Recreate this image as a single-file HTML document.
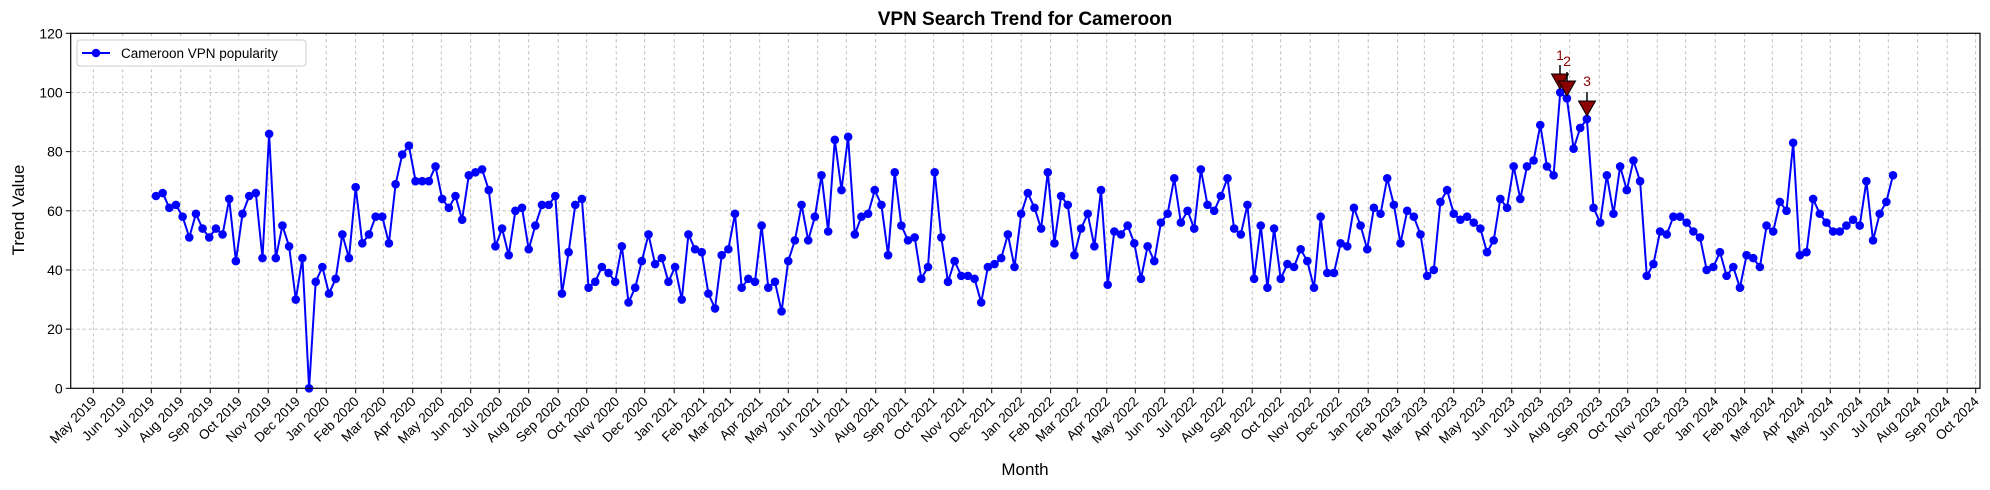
<!DOCTYPE html>
<html><head><meta charset="utf-8"><style>
html,body{margin:0;padding:0;background:#fff;}
svg{display:block;font-family:"Liberation Sans","DejaVu Sans",sans-serif;}
</style></head><body>
<svg id="s" width="1990" height="490" viewBox="0 0 1990 490" xmlns="http://www.w3.org/2000/svg">
<rect width="1990" height="490" fill="#fff"/>
<g id="grid"></g>
<g id="ticks"></g>
<polyline id="line" fill="none" stroke="#0000ff" stroke-width="2" stroke-linejoin="round"/>
<g id="pts" fill="#0000ff"></g>
<g id="ann"></g>
<rect x="70.7" y="33.3" width="1909.3" height="355" fill="none" stroke="#000" stroke-width="1.2"/>
<text x="1025" y="25" text-anchor="middle" font-size="19" font-weight="bold">VPN Search Trend for Cameroon</text>
<text x="0" y="0" transform="translate(24,210) rotate(-90)" text-anchor="middle" font-size="17">Trend Value</text>
<text x="1025" y="475" text-anchor="middle" font-size="17">Month</text>
<g>
<rect x="77" y="40" width="229" height="26" rx="3" fill="#fff" stroke="#ccc"/>
<line x1="82" y1="53" x2="110" y2="53" stroke="#0000ff" stroke-width="2"/>
<circle cx="96" cy="53" r="4.3" fill="#0000ff"/>
<text x="121" y="58" font-size="13.5">Cameroon VPN popularity</text>
</g>
</svg>
<script>
var NS="http://www.w3.org/2000/svg";
function el(t,a,p){var e=document.createElementNS(NS,t);for(var k in a)e.setAttribute(k,a[k]);document.getElementById(p).appendChild(e);return e;}
var L=70.7,R=1980,T=33.3,B=388.3;
function yv(v){return B-(v/120)*(B-T);}
// y grid
for(var v=0;v<=120;v+=20){var y=yv(v);
 if(v>0&&v<120)el("line",{x1:L,x2:R,y1:y,y2:y,stroke:"#b0b0b0","stroke-width":0.8,"stroke-dasharray":"3,3"},"grid");
 el("line",{x1:L-5,x2:L,y1:y,y2:y,stroke:"#000","stroke-width":1},"ticks");
 var t=el("text",{x:L-8,y:y+5,"text-anchor":"end","font-size":"14"},"ticks");t.textContent=v;}
// x ticks
var mn=["Jan","Feb","Mar","Apr","May","Jun","Jul","Aug","Sep","Oct","Nov","Dec"];
var d0=Date.UTC(2019,4,1),x0=93.3,ppd=(1975.7-93.3)/((Date.UTC(2024,9,1)-d0)/864e5);
for(var i=0;i<66;i++){var yr=2019+Math.floor((4+i)/12),m=(4+i)%12;
 var x=x0+(Date.UTC(yr,m,1)-d0)/864e5*ppd;
 el("line",{x1:x,x2:x,y1:T,y2:B,stroke:"#b0b0b0","stroke-width":0.8,"stroke-dasharray":"3,3"},"grid");
 el("line",{x1:x,x2:x,y1:B,y2:B+5,stroke:"#000","stroke-width":1},"ticks");
 var t=el("text",{x:0,y:0,"text-anchor":"end","font-size":"13.5",transform:"translate("+(x+4)+","+(B+14)+") rotate(-45)"},"ticks");t.textContent=mn[m]+" "+yr;}
var d=[65,66,61,62,58,51,59,54,51,54,52,64,43,59,65,66,44,86,44,55,48,30,44,0,36,41,32,37,52,44,68,49,52,58,58,49,69,79,82,70,70,70,75,64,61,65,57,72,73,74,67,48,54,45,60,61,47,55,62,62,65,32,46,
62,64,34,36,41,39,36,48,29,34,43,52,42,44,36,41,30,52,47,46,32,27,45,47,59,34,37,36,55,34,36,26,43,50,62,50,58,72,53,84,67,85,52,58,59,67,62,45,73,55,50,51,37,41,73,51,36,43,38,38,37,29,41,42,44,52,41,59,66,61,54,73,49,65,
62,45,54,59,48,67,35,53,52,55,49,37,48,43,56,59,71,56,60,54,74,62,60,65,71,54,52,62,37,55,34,54,37,42,41,47,43,34,58,39,39,49,48,61,55,47,61,59,71,62,49,60,58,52,38,40,63,67,59,57,58,56,54,46,50,64,61,75,64,75,77,89,75,72,100,98,
81,88,91,61,56,72,59,75,67,77,70,38,42,53,52,58,58,56,53,51,40,41,46,38,41,34,45,44,41,55,53,63,60,83,45,46,64,59,56,53,53,55,57,55,70,50,59,63,72];
var xa=156,xb=1893,n=d.length,pts=[];
for(var i=0;i<n;i++){var x=xa+(xb-xa)*i/(n-1),y=yv(d[i]);pts.push(x.toFixed(1)+","+y.toFixed(1));
 el("circle",{cx:x,cy:y,r:4.3},"pts");}
document.getElementById("line").setAttribute("points",pts.join(" "));
// annotations
var an=[[1560,80,"1",60],[1567,87,"2",66],[1587,107,"3",86]];
an.forEach(function(a){var x=a[0],y=a[1];
 el("line",{x1:x,x2:x,y1:y-15,y2:y-6,stroke:"#000","stroke-width":1.5},"ann");
 el("polygon",{points:(x-8.5)+","+(y-6)+" "+(x+8.5)+","+(y-6)+" "+x+","+(y+9),fill:"#8b0000",stroke:"#000","stroke-width":1},"ann");
 var t=el("text",{x:x,y:a[3],"text-anchor":"middle","font-size":"14",fill:"#8b0000"},"ann");t.textContent=a[2];});
</script>
</body></html>
